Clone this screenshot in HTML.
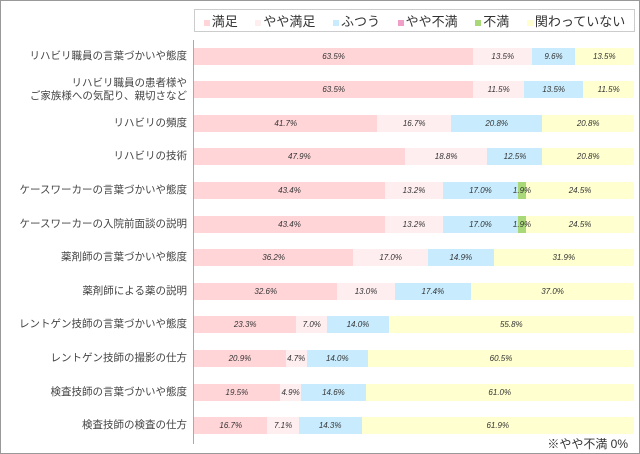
<!DOCTYPE html>
<html><head><meta charset="utf-8"><style>
body{margin:0;width:640px;height:454px;background:#fff;font-family:"Liberation Sans","Noto Sans CJK JP",sans-serif;position:relative;overflow:hidden}
.frame{position:absolute;left:0;top:0;width:638px;height:452px;border:1px solid #999}
.leg{position:absolute;left:194px;top:9px;width:441px;height:23px;border:1px solid #ccc;box-sizing:border-box;font-size:13px;color:#333;display:flex;align-items:center;justify-content:space-around}
.leg span i{display:inline-block;width:6px;height:6px;margin-right:2px;vertical-align:middle}
.axis{position:absolute;left:193px;top:40px;width:1px;height:404px;background:#aaa}
.lab{position:absolute;right:453px;font-size:10.5px;color:#444;text-align:right;line-height:13px;white-space:nowrap}
.bar{position:absolute;left:194px;height:17px;display:flex}
.bar div{height:17px;font-size:8px;font-style:italic;color:#333;display:flex;align-items:center;justify-content:center;overflow:visible;white-space:nowrap;position:relative}
.bar div.s{z-index:2}
.note{position:absolute;right:12px;top:435px;font-size:12px;color:#333}
</style></head><body>
<div class="frame"></div>
<div class="leg">
<span><i style="background:#ffd5d8"></i>満足</span><span><i style="background:#ffeef0"></i>やや満足</span><span><i style="background:#c8ecfe"></i>ふつう</span><span><i style="background:#f0a0c8"></i>やや不満</span><span><i style="background:#a8d878"></i>不満</span><span><i style="background:#ffffd0"></i>関わっていない</span>
</div>
<div class="axis"></div>
<div id="c"></div>
<div class="note">※やや不満 0%</div>
<script>
var W=440,cols=["#ffd5d8","#ffeef0","#c8ecfe","#f0a0c8","#a8d878","#ffffd0"];
var rows=[
["リハビリ職員の言葉づかいや態度",[63.5,13.5,9.6,0,0,13.5]],
["リハビリ職員の患者様や<br>ご家族様への気配り、親切さなど",[63.5,11.5,13.5,0,0,11.5]],
["リハビリの頻度",[41.7,16.7,20.8,0,0,20.8]],
["リハビリの技術",[47.9,18.8,12.5,0,0,20.8]],
["ケースワーカーの言葉づかいや態度",[43.4,13.2,17.0,0,1.9,24.5]],
["ケースワーカーの入院前面談の説明",[43.4,13.2,17.0,0,1.9,24.5]],
["薬剤師の言葉づかいや態度",[36.2,17.0,14.9,0,0,31.9]],
["薬剤師による薬の説明",[32.6,13.0,17.4,0,0,37.0]],
["レントゲン技師の言葉づかいや態度",[23.3,7.0,14.0,0,0,55.8]],
["レントゲン技師の撮影の仕方",[20.9,4.7,14.0,0,0,60.5]],
["検査技師の言葉づかいや態度",[19.5,4.9,14.6,0,0,61.0]],
["検査技師の検査の仕方",[16.7,7.1,14.3,0,0,61.9]]];
var h="";
rows.forEach(function(r,i){var cy=56+i*33.6;var two=r[0].indexOf("<br>")>=0;
h+='<div class="lab" style="top:'+(cy-(two?13:6.5))+'px">'+r[0]+'</div>';
var tot=r[1].reduce(function(a,b){return a+b},0);
h+='<div class="bar" style="top:'+(cy-8.5)+'px">';
r[1].forEach(function(v,j){if(v>0)h+='<div'+(v<3?' class="s"':'')+' style="background:'+cols[j]+';width:'+(v/tot*W)+'px">'+v.toFixed(1)+'%</div>';});
h+='</div>';});
document.getElementById("c").innerHTML=h;
</script>
</body></html>
